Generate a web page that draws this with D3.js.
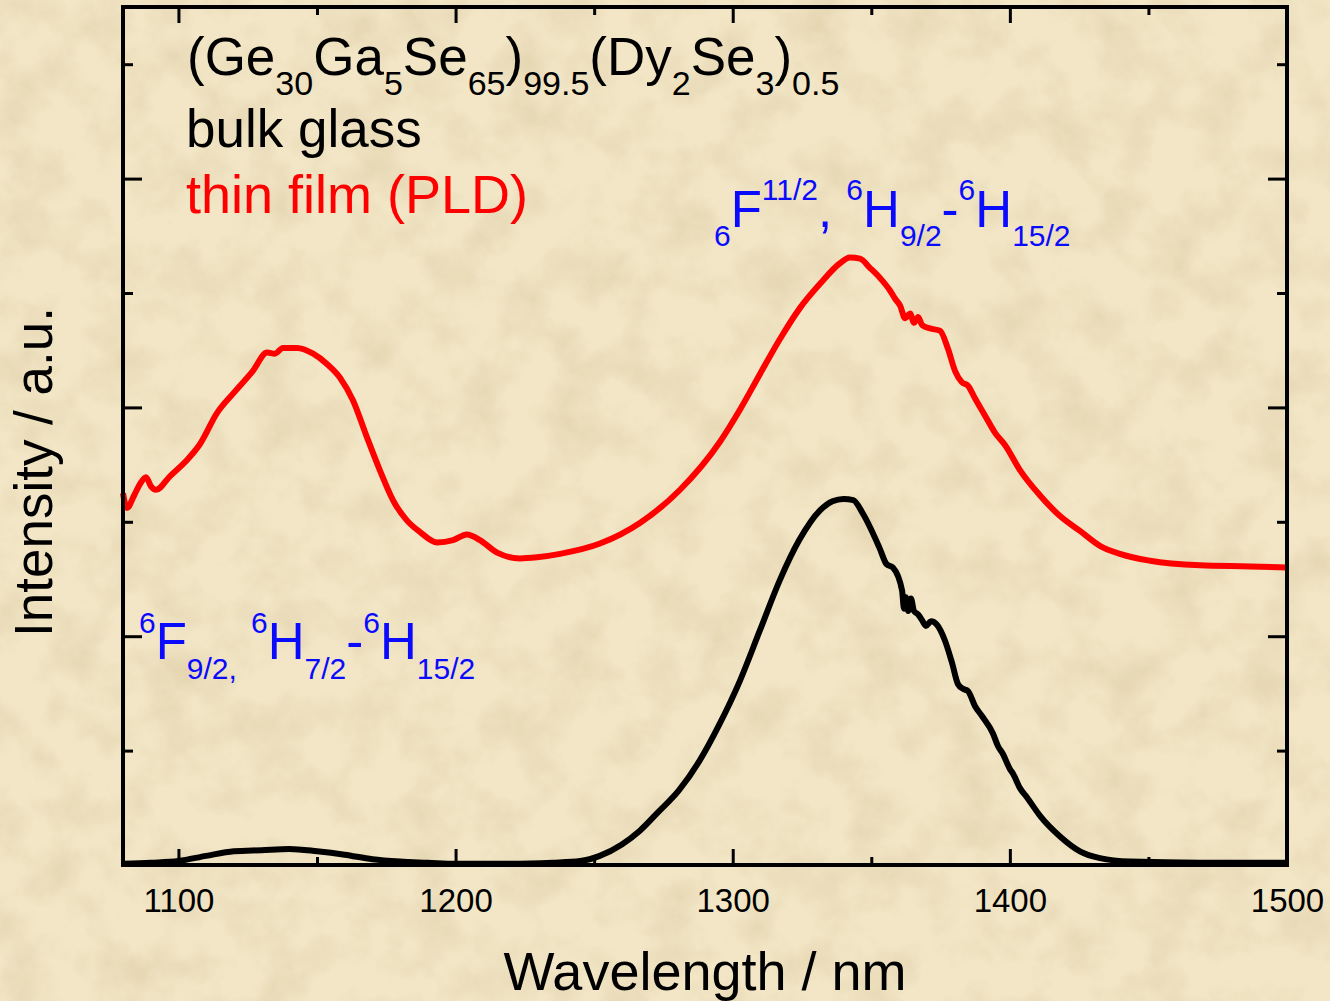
<!DOCTYPE html>
<html>
<head>
<meta charset="utf-8">
<script src="https://cdn.jsdelivr.net/npm/d3@7"></script>
<style>
  html, body { margin: 0; padding: 0; background: #f0e3c2; }
  text { font-family: "Liberation Sans", Arial, sans-serif; white-space: pre; }
</style>
</head>
<body>
<div id="holder"></div>
<script>
// wavelength (nm) / intensity (a.u.)
const bulkWl = [1080, 1090, 1100, 1110, 1120, 1130, 1140, 1150, 1160, 1170, 1180, 1190, 1200, 1220,
  1235, 1245, 1252, 1260, 1266.5, 1273, 1280.5, 1288, 1295, 1302.6, 1309.8, 1317, 1324, 1331.5, 1336,
  1340, 1343.5, 1347, 1353, 1355.5, 1357.8, 1361.1, 1361.8, 1362.5, 1363.3, 1364.3, 1365.4, 1366.9,
  1368.3, 1369.7, 1371.5, 1373.7, 1376.6, 1379.1, 1381.3, 1383.1, 1384.9, 1387.4, 1390, 1393.9, 1395.7,
  1397.5, 1400, 1401.1, 1403.7, 1406.2, 1410.9, 1418.1, 1425.3, 1432.5, 1443.4, 1468.6, 1500];
const bulkI = [0.01, 0.02, 0.035, 0.08, 0.12, 0.13, 0.14, 0.12, 0.09, 0.05, 0.03, 0.02, 0.01, 0.01,
  0.02, 0.035, 0.08, 0.18, 0.30, 0.46, 0.65, 0.91, 1.22, 1.61, 2.05, 2.49, 2.84, 3.10, 3.18,
  3.20, 3.19, 3.07, 2.77, 2.63, 2.60, 2.40, 2.24, 2.34, 2.22, 2.33, 2.22, 2.19,
  2.14, 2.09, 2.13, 2.10, 1.96, 1.77, 1.58, 1.54, 1.52, 1.39, 1.30, 1.15, 1.04,
  0.97, 0.84, 0.80, 0.67, 0.59, 0.43, 0.25, 0.12, 0.06, 0.03, 0.02, 0.02];

const filmWl = [1080, 1081.4, 1084, 1086.1, 1088.3, 1090.1, 1091.9, 1097, 1103.1, 1107.8, 1113.9, 1119.7,
  1126.9, 1132, 1134.8, 1137.7, 1142.8, 1148.6, 1153.6, 1158.3, 1163, 1168, 1172.7, 1177.4, 1182.5,
  1187.2, 1193.3, 1199.1, 1204.1, 1208.8, 1215, 1223.2, 1229.4, 1237.7, 1252.1, 1266.5, 1281, 1295.4,
  1302.6, 1309.8, 1317.1, 1324.3, 1331.5, 1338.7, 1342.3, 1345.9, 1349.5, 1353.2, 1356.8, 1358.6,
  1360.4, 1362.2, 1364, 1365.4, 1366.9, 1368.3, 1371.2, 1374.8, 1377.7, 1380.2, 1382.7, 1384.9, 1387.4,
  1391, 1394.6, 1398.3, 1403.7, 1410.9, 1418.1, 1425.3, 1432.5, 1439.7, 1450.6, 1468.6, 1486.7, 1500];
const filmI = [3.25, 3.12, 3.23, 3.33, 3.39, 3.31, 3.28, 3.40, 3.54, 3.68, 3.95, 4.12,
  4.32, 4.48, 4.47, 4.52, 4.52, 4.47, 4.38, 4.26, 4.06, 3.74, 3.45, 3.19, 3.01,
  2.91, 2.82, 2.84, 2.89, 2.84, 2.73, 2.68, 2.69, 2.72, 2.81, 2.99, 3.28, 3.70,
  3.98, 4.29, 4.60, 4.87, 5.08, 5.26, 5.31, 5.30, 5.22, 5.13, 5.02, 4.95,
  4.89, 4.78, 4.82, 4.74, 4.79, 4.72, 4.69, 4.67, 4.51, 4.32, 4.22, 4.19, 4.08,
  3.93, 3.78, 3.67, 3.45, 3.23, 3.05, 2.92, 2.79, 2.72, 2.66, 2.62, 2.61, 2.60];

const xMajor = [1100, 1200, 1300, 1400, 1500];
const xMinor = [1150, 1250, 1350, 1450];
const yMajor = [2, 4, 6];
const yMinor = [1, 3, 5, 7];

const formula = [["(Ge", "n"], ["30", "sub"], ["Ga", "n"], ["5", "sub"], ["Se", "n"], ["65", "sub"], [")", "n"],
  ["99.5", "sub"], ["(Dy", "n"], ["2", "sub"], ["Se", "n"], ["3", "sub"], [")", "n"], ["0.5", "sub"]];
const bandLow = [["6", "sup"], ["F", "n"], ["9/2,", "sub"], [" ", "n"], ["6", "sup"], ["H", "n"], ["7/2", "sub"],
  ["-", "n"], ["6", "sup"], ["H", "n"], ["15/2", "sub"]];
const bandHigh = [["6", "sub"], ["F", "n"], ["11/2", "sup"], [", ", "n"], ["6", "sup"], ["H", "n"], ["9/2", "sub"],
  ["-", "n"], ["6", "sup"], ["H", "n"], ["15/2", "sub"]];

const w = 1330, h = 1001;
const padL = 123, padR = 1287, padT = 7, padB = 865;

const svg = d3.select("#holder").append("svg")
  .attr("width", w).attr("height", h)
  .style("display", "block");

// parchment background
const defs = svg.append("defs");
const f = defs.append("filter").attr("id", "paper")
  .attr("x", 0).attr("y", 0).attr("width", "100%").attr("height", "100%");
f.append("feTurbulence").attr("type", "fractalNoise").attr("baseFrequency", "0.02")
  .attr("numOctaves", 5).attr("seed", 7);
f.append("feColorMatrix").attr("type", "matrix")
  .attr("values", "0 0 0 0 0.66  0 0 0 0 0.52  0 0 0 0 0.3  0.8 0 0 0 -0.32");
svg.append("rect").attr("width", w).attr("height", h).attr("fill", "#f2e6c6");
svg.append("rect").attr("width", w).attr("height", h).attr("filter", "url(#paper)");

const x = d3.scaleLinear().domain([1080, 1500]).range([padL, padR]);
const y = d3.scaleLinear().domain([0, 7.5]).range([padB, padT]);

// ticks
function axis(gen, vals, size, tx, ty) {
  const g = svg.append("g").attr("transform", "translate(" + tx + "," + ty + ")")
    .call(gen.tickValues(vals).tickSizeInner(size).tickSizeOuter(0).tickFormat(""));
  g.select(".domain").remove();
  g.selectAll("line").attr("stroke", "#000").attr("stroke-width", 3);
  return g;
}
axis(d3.axisBottom(x), xMajor, -16, 0, padB);
axis(d3.axisBottom(x), xMinor, -8, 0, padB);
axis(d3.axisTop(x), xMajor, -16, 0, padT);
axis(d3.axisTop(x), xMinor, -8, 0, padT);
axis(d3.axisLeft(y), yMajor, -19, padL, 0);
axis(d3.axisLeft(y), yMinor, -10, padL, 0);
axis(d3.axisRight(y), yMajor, -19, padR, 0);
axis(d3.axisRight(y), yMinor, -10, padR, 0);

// tick labels
const xl = svg.append("g").attr("transform", "translate(0," + padB + ")")
  .call(d3.axisBottom(x).tickValues(xMajor).tickSize(0).tickPadding(0).tickFormat(d3.format("d")));
xl.select(".domain").remove();
xl.selectAll("text").attr("y", 47).attr("dy", null)
  .style("font-size", "33px").attr("fill", "#000")
  .style("font-family", "'Liberation Sans', Arial, sans-serif");

// curves
const line = d3.line().x(d => x(d[0])).y(d => y(d[1])).curve(d3.curveMonotoneX);
svg.append("path").attr("d", line(d3.zip(bulkWl, bulkI)))
  .attr("fill", "none").attr("stroke", "#000").attr("stroke-width", 6).attr("stroke-linejoin", "round");
svg.append("path").attr("d", line(d3.zip(filmWl, filmI)))
  .attr("fill", "none").attr("stroke", "#ff0000").attr("stroke-width", 6).attr("stroke-linejoin", "round");

// frame
svg.append("rect").attr("x", padL).attr("y", padT).attr("width", padR - padL).attr("height", padB - padT)
  .attr("fill", "none").attr("stroke", "#000").attr("stroke-width", 4);

// axis titles
svg.append("text").attr("x", (padL + padR) / 2).attr("y", 990).attr("text-anchor", "middle")
  .style("font-size", "54px").text("Wavelength / nm");
svg.append("text").attr("transform", "translate(52,472) rotate(-90)").attr("text-anchor", "middle")
  .style("font-size", "53px").text("Intensity / a.u.");

// text with sub/superscripts
function rich(px, py, parts, size, small, color, subDy, supDy) {
  const t = svg.append("text").attr("x", px).attr("y", py).attr("fill", color).style("font-size", size + "px");
  let cur = 0;
  parts.forEach(p => {
    const target = p[1] == "sub" ? subDy : (p[1] == "sup" ? supDy : 0);
    t.append("tspan").attr("dy", target - cur)
      .style("font-size", (p[1] == "n" ? size : small) + "px").text(p[0]);
    cur = target;
  });
}
rich(187, 75, formula, 53, 34, "#000", 20, -26);
svg.append("text").attr("x", 186).attr("y", 147).style("font-size", "53px").text("bulk glass");
svg.append("text").attr("x", 186).attr("y", 213).style("font-size", "54px").attr("fill", "#ff0000").text("thin film (PLD)");

rich(139, 659, bandLow, 51, 30, "#0a0aff", 20, -26);
rich(714, 227, bandHigh, 51, 30, "#0a0aff", 19, -27);
</script>
</body>
</html>
